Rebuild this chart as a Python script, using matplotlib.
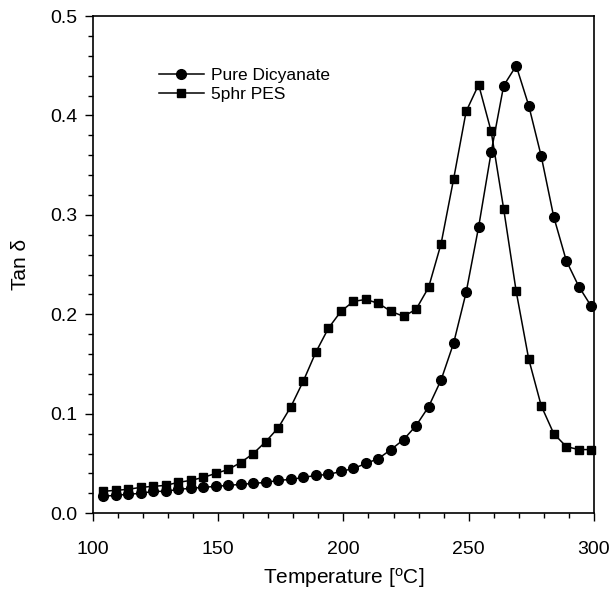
import matplotlib
matplotlib.use('Agg')
import matplotlib.pyplot as plt
from matplotlib.ticker import MultipleLocator, FormatStrFormatter

plt.rcParams['font.family'] = ['Liberation Sans', 'DejaVu Sans']

# temperaturas (passo de 5 graus)
temperatura = list(range(104, 300, 5))

# Pure Dicyanate (circulos)
pure_dicyanate = [0.017, 0.018, 0.019, 0.020, 0.022, 0.022, 0.024, 0.025, 0.026, 0.027,
                  0.028, 0.029, 0.030, 0.031, 0.033, 0.034, 0.036, 0.038, 0.039, 0.042,
                  0.045, 0.050, 0.055, 0.064, 0.074, 0.088, 0.107, 0.134, 0.171, 0.222,
                  0.288, 0.363, 0.430, 0.450, 0.410, 0.359, 0.298, 0.254, 0.228, 0.208]

# 5phr PES (quadrados)
pes_5phr = [0.022, 0.023, 0.024, 0.026, 0.027, 0.028, 0.031, 0.033, 0.036, 0.040,
            0.044, 0.051, 0.060, 0.072, 0.086, 0.107, 0.133, 0.162, 0.186, 0.203,
            0.213, 0.215, 0.211, 0.203, 0.198, 0.205, 0.227, 0.271, 0.336, 0.404,
            0.431, 0.384, 0.306, 0.223, 0.155, 0.108, 0.080, 0.067, 0.064, 0.064]

fig = plt.figure(figsize=(6.16, 5.94), dpi=100)
ax = fig.add_axes([0.151, 0.136, 0.813, 0.837])

ax.plot(temperatura, pure_dicyanate, color='black', lw=1.1, marker='o', ms=7,
        label='Pure Dicyanate', clip_on=False, zorder=3)
ax.plot(temperatura, pes_5phr, color='black', lw=1.1, marker='s', ms=6,
        label='5phr PES', clip_on=False, zorder=3)

ax.set_xlim(100, 300)
ax.set_ylim(0, 0.5)
ax.xaxis.set_major_locator(MultipleLocator(50))
ax.xaxis.set_minor_locator(MultipleLocator(10))
ax.yaxis.set_major_locator(MultipleLocator(0.1))
ax.yaxis.set_minor_locator(MultipleLocator(0.02))
ax.yaxis.set_major_formatter(FormatStrFormatter('%.1f'))
ax.tick_params(which='major', direction='out', length=6, width=1, labelsize=14)
ax.tick_params(which='minor', direction='out', length=3.5, width=1)
ax.tick_params(axis='x', which='major', pad=14)
ax.tick_params(axis='y', which='major', pad=5)
ax.tick_params(top=False, right=False, which='both')
for s in ax.spines.values():
    s.set_linewidth(1.2)

ax.set_xlabel('Temperature [$\\mathregular{^oC}$]', fontsize=15, labelpad=6)
ax.set_ylabel('Tan δ', fontsize=15, labelpad=15)

ax.legend(loc='upper left', bbox_to_anchor=(0.1, 0.928), frameon=False, fontsize=12.5,
          handlelength=2.6, handletextpad=0.4, labelspacing=0.25)

plt.savefig('out.png', dpi=100)
